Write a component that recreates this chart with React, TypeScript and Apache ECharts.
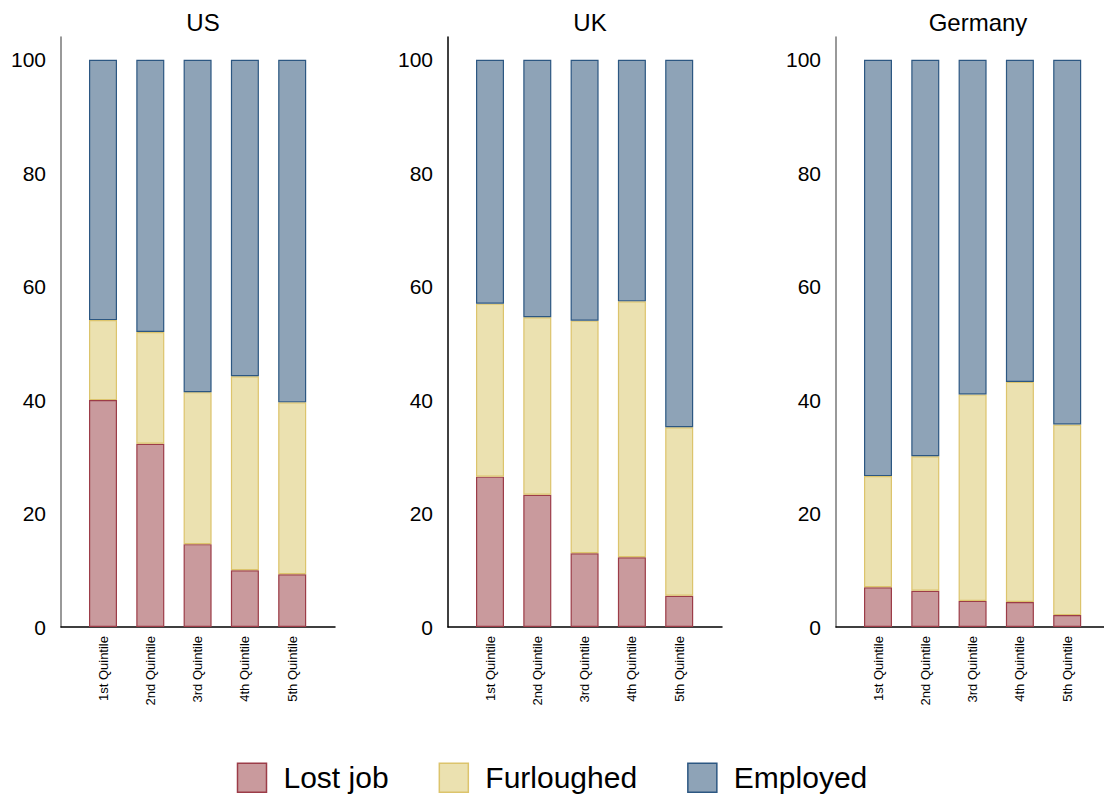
import React, { useEffect, useRef } from 'react';
import * as echarts from 'echarts';

const quintiles = ['1st Quintile', '2nd Quintile', '3rd Quintile', '4th Quintile', '5th Quintile'];
const countries = ['US', 'UK', 'Germany'];
const yTicks = [0, 20, 40, 60, 80, 100];

// shares in percent, per quintile
const lostJob = [
  [40.0, 32.3, 14.6, 10.0, 9.3],
  [26.5, 23.3, 13.0, 12.3, 5.5],
  [7.0, 6.4, 4.6, 4.4, 2.1],
];
const furloughed = [
  [14.1, 19.7, 26.8, 34.2, 30.3],
  [30.5, 31.3, 41.0, 45.1, 29.7],
  [19.6, 23.7, 36.4, 38.8, 33.6],
];
const employed = [
  [45.9, 48.0, 58.6, 55.8, 60.4],
  [43.0, 45.4, 46.0, 42.6, 64.8],
  [73.4, 69.9, 59.0, 56.8, 64.3],
];

const seriesDefs = [
  { name: 'Lost job', data: lostJob, fill: '#c99a9d', border: '#9c3c48' },
  { name: 'Furloughed', data: furloughed, fill: '#ebe1b0', border: '#dcc46c' },
  { name: 'Employed', data: employed, fill: '#8ea3b7', border: '#2c5782' },
];

const FONT = 'Liberation Sans, Arial, Helvetica, sans-serif';
const Y_MAX = 104;

const App: React.FC = () => {
  const chartRef = useRef<HTMLDivElement>(null);

  useEffect(() => {
    document.body.style.margin = '0';
    if (!chartRef.current) return;
    const chart = echarts.init(chartRef.current, null, { renderer: 'svg' });

    const panelLeft = [61, 448, 836];
    const panelWidth = 274;
    const catWidth = 47.3;
    const top = 37;
    const height = 590;

    // grids 0..2: axis frames, grids 3..5: bar areas (inset inside the frames)
    const grids: any[] = [];
    panelLeft.forEach((left) => grids.push({ left, width: panelWidth, top, height }));
    panelLeft.forEach((left) =>
      grids.push({ left: left + 42 - catWidth / 2, width: catWidth * 5, top, height })
    );

    const xAxes: any[] = [];
    const yAxes: any[] = [];
    countries.forEach((_, i) => {
      xAxes.push({
        type: 'value',
        gridIndex: i,
        min: 0,
        max: 1,
        splitLine: { show: false },
        axisLine: { show: true, onZero: false, lineStyle: { color: '#000', width: 1.5 } },
        axisTick: { show: false },
        axisLabel: { show: false },
      });
      yAxes.push({
        type: 'value',
        gridIndex: i,
        min: 0,
        max: Y_MAX,
        splitLine: { show: false },
        axisLine: { show: true, lineStyle: { color: i === 1 ? '#000' : '#777', width: 1.5 } },
        axisTick: { show: false },
        axisLabel: {
          customValues: yTicks,
          fontSize: 21,
          margin: 15,
          color: '#000',
          fontFamily: FONT,
        },
      });
    });
    countries.forEach((_, i) => {
      xAxes.push({
        type: 'category',
        gridIndex: i + 3,
        data: quintiles,
        axisLine: { show: false },
        axisTick: { show: false },
        axisLabel: {
          rotate: 90,
          fontSize: 13,
          margin: 9,
          color: '#000',
          fontFamily: FONT,
        },
      });
      yAxes.push({
        type: 'value',
        gridIndex: i + 3,
        min: 0,
        max: Y_MAX,
        show: false,
        splitLine: { show: false },
      });
    });

    const series: any[] = [];
    countries.forEach((_, ci) => {
      seriesDefs.forEach((s) => {
        series.push({
          type: 'bar',
          name: s.name,
          xAxisIndex: ci + 3,
          yAxisIndex: ci + 3,
          stack: 'c' + ci,
          barWidth: 28,
          data: s.data[ci],
          itemStyle: { color: s.fill, borderColor: s.border, borderWidth: 1.2 },
        });
      });
    });

    const option = {
      animation: false,
      textStyle: { fontFamily: FONT },
      title: countries.map((c, i) => ({
        text: c,
        left: panelLeft[i] + panelWidth / 2,
        top: 5,
        textAlign: 'center',
        textStyle: { fontSize: 24, fontWeight: 'normal', color: '#000', fontFamily: FONT },
      })),
      legend: {
        bottom: 0,
        left: 'center',
        icon: 'rect',
        itemWidth: 29,
        itemHeight: 29,
        itemGap: 50,
        data: seriesDefs.map((s) => ({
          name: s.name,
          itemStyle: { color: s.fill, borderColor: s.border, borderWidth: 1.5 },
        })),
        textStyle: { fontSize: 30, color: '#000', fontFamily: FONT, padding: [0, 0, 0, 12] },
      },
      grid: grids,
      xAxis: xAxes,
      yAxis: yAxes,
      series,
    };

    chart.setOption(option as any);
    return () => chart.dispose();
  }, []);

  return <div ref={chartRef} style={{ width: 1104, height: 798 }} />;
};

export default App;
